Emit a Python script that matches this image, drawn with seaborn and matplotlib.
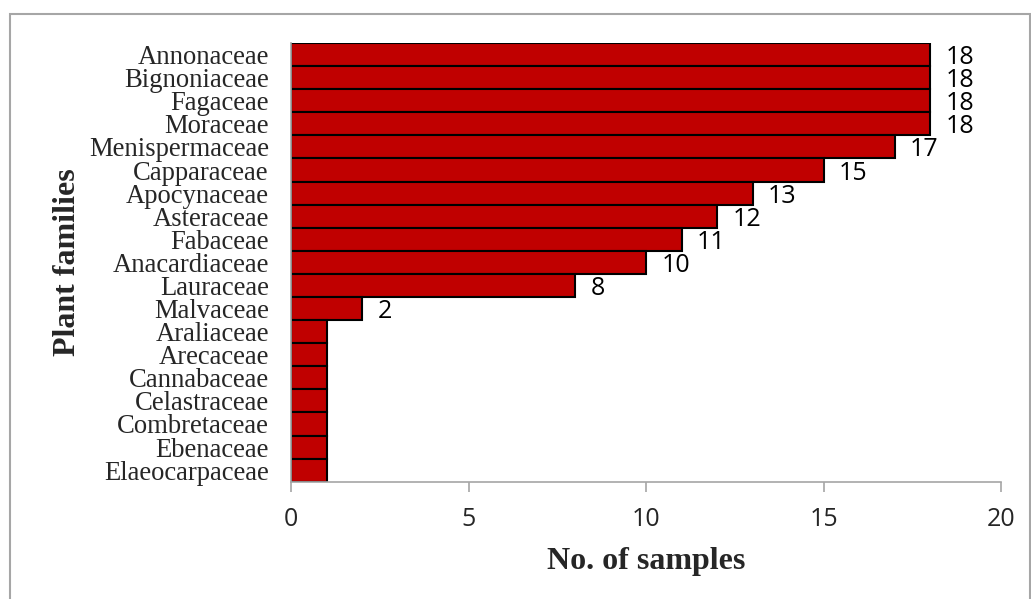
import matplotlib
matplotlib.use("Agg")
import matplotlib.pyplot as plt
import seaborn as sns
import pandas as pd
from matplotlib.patches import Rectangle

# data
families = ["Annonaceae", "Bignoniaceae", "Fagaceae", "Moraceae", "Menispermaceae",
            "Capparaceae", "Apocynaceae", "Asteraceae", "Fabaceae", "Anacardiaceae",
            "Lauraceae", "Malvaceae", "Araliaceae", "Arecaceae", "Cannabaceae",
            "Celastraceae", "Combretaceae", "Ebenaceae", "Elaeocarpaceae"]
samples = [18, 18, 18, 18, 17, 15, 13, 12, 11, 10, 8, 2, 1, 1, 1, 1, 1, 1, 1]
x_ticks = [0, 5, 10, 15, 20]

df = pd.DataFrame({"family": families, "samples": samples})

sns.set_theme(style="white")
serif = ["Liberation Serif", "DejaVu Serif"]
sans = ["Open Sans", "DejaVu Sans"]

fig = plt.figure(figsize=(10.31, 5.99), dpi=100)
ax = fig.add_axes([0.2823, 0.1958, 0.9709 - 0.2823, 0.9282 - 0.1958])

sns.barplot(data=df, x="samples", y="family", orient="h", color="#C00000",
            edgecolor="black", linewidth=1.5, width=1.0, saturation=1, ax=ax)

# value labels only where the source chart shows them
labels = [str(v) if v > 1 else "" for v in samples]
texts = ax.bar_label(ax.containers[0], labels=labels, padding=11,
                     fontsize=18, family=sans, color="black")
for t in texts:
    t.set_verticalalignment("center_baseline")

ax.set_xlim(0, 20)
ax.set_ylim(len(families) - 0.5, -0.5)
ax.set_xticks(x_ticks)
ax.set_xticklabels([str(t) for t in x_ticks], family=sans, fontsize=18)
ax.tick_params(axis="x", length=7, width=1.2, color="#a6a6a6", pad=11, bottom=True)
ax.tick_params(axis="y", length=0, pad=16)
for lbl in ax.get_yticklabels():
    lbl.set_family(serif)
    lbl.set_fontsize(19.2)

for side in ["top", "right"]:
    ax.spines[side].set_visible(False)
for side in ["left", "bottom"]:
    ax.spines[side].set_color("#a6a6a6")
    ax.spines[side].set_linewidth(1.2)

ax.set_xlabel("No. of samples", family=serif, fontsize=23, fontweight="bold", labelpad=11)
ax.set_ylabel("Plant families", family=serif, fontsize=23, fontweight="bold", labelpad=5)

# grey chart-area frame like the source
fig.patches.append(Rectangle((10 / 1031, -0.05), 1020 / 1031, 1.05 - 14 / 599,
                             transform=fig.transFigure, fill=False,
                             edgecolor="#a6a6a6", linewidth=1.5))

fig.savefig("out.png", dpi=100)
